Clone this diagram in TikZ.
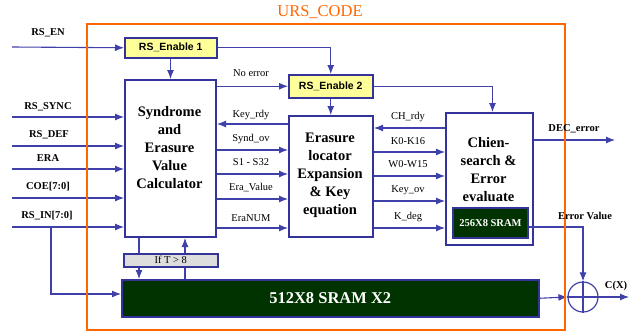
\documentclass[tikz,border=0pt]{standalone}
\usepackage{fontspec}
\setmainfont{Liberation Serif}
\newfontfamily\arialf{Liberation Sans}
\usetikzlibrary{arrows.meta,calc}
\definecolor{lineblue}{RGB}{64,64,170}
\definecolor{boxblue}{RGB}{51,51,153}
\definecolor{enyellow}{RGB}{255,255,153}
\definecolor{dgreen}{RGB}{0,51,0}
\definecolor{lgrey}{RGB}{221,221,221}
\definecolor{ursorange}{RGB}{255,102,0}
\begin{document}
\begin{tikzpicture}[x=1pt,y=-1pt,
 box/.style={draw=boxblue,line width=2pt,fill=white,inner sep=0pt,anchor=north west},
 arr/.style={draw=lineblue,line width=1.1pt,-{Latex[length=9pt,width=7pt]}},
 ln/.style={draw=lineblue,line width=1.1pt},
 lbl/.style={font=\fontsize{10.5}{12}\selectfont,inner sep=0pt},
 inlbl/.style={font=\bfseries\fontsize{10.5}{12}\selectfont,inner sep=0pt},
 btxt/.style={font=\bfseries\fontsize{14.5}{18}\selectfont,align=center,inner sep=0pt},
 enbox/.style={draw=boxblue,line width=1.5pt,fill=enyellow,inner sep=0pt,anchor=north west,font=\arialf\bfseries\fontsize{10.5}{12}\selectfont},
 sramb/.style={draw=boxblue,line width=2pt,fill=dgreen,inner sep=0pt,anchor=north west,text=white,font=\bfseries},
]
\useasboundingbox (0,0) rectangle (629,333);

% blocks
\node[enbox,minimum width=92pt,minimum height=20pt] (en1) at (124,37) {RS\_Enable 1};
\node[enbox,minimum width=84pt,minimum height=23pt] (en2) at (288,74) {RS\_Enable 2};
\node[box,minimum width=91pt,minimum height=157pt] (syn) at (124,79) {};
\node[btxt] (synT) at (169.5,148) {Syndrome\\and\\Erasure\\Value\\Calculator};
\node[box,minimum width=84pt,minimum height=121pt] (era) at (288,115) {};
\node[btxt] (eraT) at (330,175) {Erasure\\locator\\Expansion\\\& Key\\equation};
\node[box,minimum width=87pt,minimum height=132pt] (chi) at (445,112) {};
\node[btxt] (chiT) at (488.5,170) {Chien-\\search \&\\Error\\evaluate};
\node[sramb,minimum width=75pt,minimum height=30pt,font=\bfseries\fontsize{10.5}{12}\selectfont] (sram) at (452,207) {256X8 SRAM};
\node[sramb,line width=1.5pt,minimum width=417pt,minimum height=37pt,font=\bfseries\fontsize{16.5}{18}\selectfont] (big) at (121,279) {512X8 SRAM X2};
\node[circle,draw=lineblue,line width=1.2pt,minimum size=30pt,inner sep=0pt] (xor) at (583,297) {};
\draw[ln] (xor.north) -- (xor.south);
\draw[ln] (xor.west) -- (xor.east);

% inputs
\coordinate (inEN) at (12,47);
\coordinate (inSYNC) at (12,117);
\coordinate (inDEF) at (12,146);
\coordinate (inERA) at (12,169);
\coordinate (inCOE) at (12,198);
\coordinate (inIN) at (12,227);
\coordinate (br) at (51,227);
\node[inlbl] (lEN) at (48,33) {RS\_EN};
\node[inlbl] (lSYNC) at (48,107) {RS\_SYNC};
\node[inlbl] (lDEF) at (49,135) {RS\_DEF};
\node[inlbl] (lERA) at (48,158) {ERA};
\node[inlbl] (lCOE) at (48,187) {COE[7:0]};
\node[inlbl] (lIN) at (47,216) {RS\_IN[7:0]};
\draw[arr] (inEN) -- (en1.west);
\draw[arr] (inSYNC) -- (inSYNC -| syn.west);
\draw[arr] (inDEF) -- (inDEF -| syn.west);
\draw[arr] (inERA) -- (inERA -| syn.west);
\draw[arr] (inCOE) -- (inCOE -| syn.west);
\draw[arr] (inIN) -- (inIN -| syn.west);
\draw[arr] (br) -- (br |- 0,294) -- (big.west |- 0,294);

% enable paths
\draw[arr] (en1.south -| syn.north) -- (syn.north);
\draw[arr] (en1.east) -- (en1.east -| en2.north) -- (en2.north);
\draw[arr] (syn.east |- en2.west) -- (en2.west);
\node[lbl] (lNo) at (251,73) {No error};
\draw[arr] (en2.south) -- (en2.south |- era.north);
\draw[arr] (en2.east) -| ([xshift=3pt]chi.north);

% syndrome <-> erasure
\draw[arr] (era.west |- 0,124) -- (syn.east |- 0,124);
\draw[arr] (syn.east |- 0,150) -- (era.west |- 0,150);
\draw[arr] (syn.east |- 0,174) -- (era.west |- 0,174);
\draw[arr] (syn.east |- 0,199) -- (era.west |- 0,199);
\draw[arr] (syn.east |- 0,228) -- (era.west |- 0,228);
\node[lbl] (l1) at (251,115) {Key\_rdy};
\node[lbl] (l2) at (251,139) {Synd\_ov};
\node[lbl] (l3) at (251,162) {S1 - S32};
\node[lbl] (l4) at (251,188) {Era\_Value};
\node[lbl] (l5) at (251,218) {EraNUM};

% erasure <-> chien
\draw[arr] (chi.west |- 0,128) -- (era.east |- 0,128);
\draw[arr] (era.east |- 0,152) -- (chi.west |- 0,152);
\draw[arr] (era.east |- 0,176) -- (chi.west |- 0,176);
\draw[arr] (era.east |- 0,201) -- (chi.west |- 0,201);
\draw[arr] (era.east |- 0,228) -- (chi.west |- 0,228);
\node[lbl] (m1) at (408,117) {CH\_rdy};
\node[lbl] (m2) at (408,141) {K0-K16};
\node[lbl] (m3) at (408,164) {W0-W15};
\node[lbl] (m4) at (408,190) {Key\_ov};
\node[lbl] (m5) at (408,217) {K\_deg};

% If T > 8 paths
\draw[arr] ([xshift=-31.5pt]syn.south) -- ([xshift=-31.5pt]syn.south |- big.north);
\draw[arr] ([xshift=14.5pt]syn.south |- big.north) -- ([xshift=14.5pt]syn.south);
\node[draw=boxblue,line width=1.5pt,fill=lgrey,inner sep=0pt,anchor=north west,minimum width=94pt,minimum height=13pt,font=\fontsize{10.5}{12}\selectfont] (ift) at (123,253) {If T > 8};

% outputs
\coordinate (decOut) at (615,140);
\coordinate (cOut) at (629,297);
\draw[arr] (chi.east |- decOut) -- (decOut);
\draw[arr] (sram.east |- 0,227) -| (xor.north);
\draw[arr] (big.east) -- (xor.west);
\draw[arr] (xor.east) -- (cOut);

% URS_CODE frame
\node[draw=ursorange,line width=2pt,inner sep=0pt,anchor=north west,minimum width=478pt,minimum height=306pt] (urs) at (86,23) {};
\node[text=ursorange,inner sep=0pt,font=\fontsize{16.5}{18}\selectfont] (ursT) at (320,12) {URS\_CODE};

% output labels over the frame
\node[inlbl] (lDEC) at (574,129) {DEC\_error};
\node[inlbl] (lEV) at (585,216) {Error Value};
\node[inlbl] (lC) at (616,286) {C(X)};
\end{tikzpicture}
\end{document}
